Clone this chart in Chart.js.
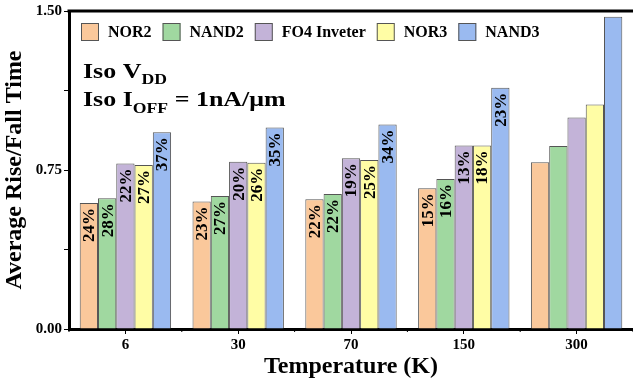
<!DOCTYPE html>
<html>
<head>
<meta charset="utf-8">
<script src="https://cdn.jsdelivr.net/npm/chart.js@4"></script>
<style>
  body { margin: 0; background: #fff; }
  canvas { display: block; }
</style>
</head>
<body>
<canvas id="riseChart" width="633" height="383"></canvas>
<script>
// DATA
const temps = ["6", "30", "70", "150", "300"];
const gates = ["NOR2", "NAND2", "FO4 Inveter", "NOR3", "NAND3"];
const nor2 = [0.594, 0.601, 0.612, 0.664, 0.786];
const nand2 = [0.617, 0.627, 0.637, 0.708, 0.863];
const fo4 = [0.781, 0.789, 0.805, 0.865, 0.998];
const nor3 = [0.774, 0.784, 0.797, 0.865, 1.059];
const nand3 = [0.928, 0.951, 0.965, 1.138, 1.473];
const nor2Pct = ["24%", "23%", "22%", "15%", ""];
const nand2Pct = ["28%", "27%", "22%", "16%", ""];
const fo4Pct = ["22%", "20%", "19%", "13%", ""];
const nor3Pct = ["27%", "26%", "25%", "18%", ""];
const nand3Pct = ["37%", "35%", "34%", "23%", ""];
const yTicks = [0, 0.75, 1.5];

const colors = ["#FAC89B", "#A0D8A0", "#C3B3D8", "#FFFDA5", "#9ABAF0"];
const series = [nor2, nand2, fo4, nor3, nand3];
const pcts = [nor2Pct, nand2Pct, fo4Pct, nor3Pct, nand3Pct];
const serif = "'Liberation Serif', 'Times New Roman', serif";

// BAR LABELS, LEGEND, NOTE, FRAME
const extras = {
  id: "extras",
  afterDatasetsDraw(chart) {
    const c = chart.ctx;
    const area = chart.chartArea;
    c.save();

    // percent labels inside bars
    c.font = "bold 17px " + serif;
    c.fillStyle = "#000";
    c.textAlign = "right";
    c.textBaseline = "middle";
    chart.data.datasets.forEach((ds, i) => {
      chart.getDatasetMeta(i).data.forEach((bar, j) => {
        let txt = pcts[i][j];
        if (!txt) return;
        c.save();
        c.translate(bar.x, bar.y + 5);
        c.rotate(-Math.PI / 2);
        c.fillText(txt, 0, 1);
        c.restore();
      });
    });

    // top frame line
    c.strokeStyle = "#000";
    c.lineWidth = 3;
    c.beginPath();
    c.moveTo(area.left - 1.5, area.top);
    c.lineTo(chart.width, area.top);
    c.stroke();

    // minor x ticks between groups
    let xs = chart.scales.x;
    c.lineWidth = 1;
    for (let k = 0; k <= temps.length; k++) {
      let x = xs.getPixelForValue(k - 0.5);
      c.beginPath();
      c.moveTo(x, area.bottom);
      c.lineTo(x, area.bottom + 3);
      c.stroke();
    }

    // legend
    let lx = 81;
    c.font = "bold 16px " + serif;
    c.textAlign = "left";
    c.textBaseline = "middle";
    gates.forEach((g, i) => {
      c.fillStyle = colors[i];
      c.fillRect(lx, 23, 18, 18);
      c.strokeStyle = "#555";
      c.lineWidth = 1;
      c.strokeRect(lx + 0.5, 23.5, 17, 17);
      c.fillStyle = "#000";
      c.fillText(g, lx + 27, 33);
      lx += 27 + c.measureText(g).width + 11;
    });

    // note text (a bit wide in the original)
    c.textBaseline = "alphabetic";
    c.save();
    c.translate(83, 0);
    c.scale(1.18, 1);
    c.font = "bold 22px " + serif;
    c.fillText("Iso V", 0, 78);
    let w = c.measureText("Iso V").width;
    c.font = "bold 15px " + serif;
    c.fillText("DD", w, 84);
    c.font = "bold 22px " + serif;
    c.fillText("Iso I", 0, 106);
    w = c.measureText("Iso I").width;
    c.font = "bold 15px " + serif;
    c.fillText("OFF", w, 113);
    let w2 = c.measureText("OFF").width;
    c.font = "bold 22px " + serif;
    c.fillText(" = 1nA/\u03bcm", w + w2, 106);
    c.restore();

    c.restore();
  },
};

const ctx = document.getElementById("riseChart").getContext("2d");

const myChart = new Chart(ctx, {
  type: "bar",
  data: {
    labels: temps,
    datasets: gates.map((g, i) => ({
      label: g,
      data: series[i],
      backgroundColor: colors[i],
      borderColor: "#555",
      borderWidth: 1,
      barPercentage: 1,
      categoryPercentage: 0.81,
    })),
  },
  plugins: [extras],
  options: {
    responsive: false,
    animation: false,
    layout: { padding: { top: 11, right: -3, bottom: 0, left: 0 } },
    plugins: {
      legend: { display: false },
      tooltip: { enabled: false },
    },
    scales: {
      x: {
        afterFit: (scale) => {
          scale.height = 54;
        },
        grid: {
          display: true,
          offset: false,
          drawOnChartArea: false,
          drawTicks: true,
          tickLength: 5,
          color: "#000",
        },
        border: { display: true, width: 3, color: "#000" },
        ticks: {
          color: "#000",
          padding: 2,
          font: { family: serif, weight: "bold", size: 15 },
        },
        title: {
          display: true,
          text: "Temperature (K)",
          color: "#000",
          padding: { top: 0, bottom: 2 },
          font: { family: serif, weight: "bold", size: 24 },
        },
      },
      y: {
        min: 0,
        max: 1.5,
        afterFit: (scale) => {
          scale.width = 69;
        },
        grid: {
          display: true,
          drawOnChartArea: false,
          drawTicks: true,
          tickLength: 5,
          color: "#000",
        },
        border: { display: true, width: 3, color: "#000" },
        ticks: {
          stepSize: 0.375,
          color: "#000",
          padding: 2,
          font: { family: serif, weight: "bold", size: 15 },
          callback: function (value) {
            return yTicks.includes(value) ? value.toFixed(2) : "";
          },
        },
        title: {
          display: true,
          text: "Average Rise/Fall Time",
          color: "#000",
          padding: { top: 0, bottom: 0 },
          font: { family: serif, weight: "bold", size: 24 },
        },
      },
    },
  },
});
</script>
</body>
</html>
